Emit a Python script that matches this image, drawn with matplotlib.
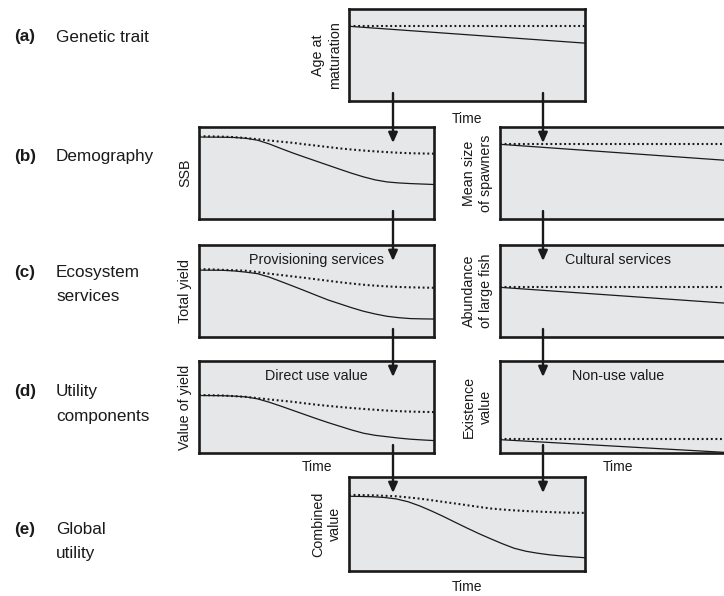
import matplotlib
matplotlib.use('Agg')
import matplotlib.pyplot as plt
from matplotlib.patches import FancyArrowPatch

plt.rcParams['font.family'] = ['Liberation Sans', 'DejaVu Sans']

# ---------------- data ----------------
time = [0.0, 0.05, 0.1, 0.15, 0.2, 0.25, 0.3, 0.35, 0.4, 0.45, 0.5,
        0.55, 0.6, 0.65, 0.7, 0.75, 0.8, 0.85, 0.9, 0.95, 1.0]
time_ends = [0.0, 1.0]

# (a) genetic trait: age at maturation (linear)
age_base = [0.818, 0.818]
age_evo = [0.812, 0.629]

# (b) demography
ssb_base = [0.90, 0.898, 0.895, 0.89, 0.88, 0.867, 0.853, 0.84, 0.828, 0.812, 0.797,
            0.782, 0.767, 0.755, 0.744, 0.735, 0.727, 0.72, 0.715, 0.712, 0.71]
ssb_evo = [0.891, 0.890, 0.889, 0.886, 0.877, 0.856, 0.815, 0.765, 0.717, 0.672, 0.628,
           0.584, 0.54, 0.497, 0.458, 0.425, 0.403, 0.392, 0.385, 0.38, 0.375]
size_base = [0.82, 0.82]
size_evo = [0.812, 0.63]

# (c) ecosystem services
yield_base = [0.738, 0.735, 0.73, 0.726, 0.72, 0.705, 0.688, 0.673, 0.658, 0.643, 0.627,
              0.611, 0.595, 0.581, 0.568, 0.558, 0.55, 0.544, 0.54, 0.537, 0.535]
yield_evo = [0.727, 0.726, 0.725, 0.718, 0.705, 0.688, 0.65, 0.602, 0.553, 0.503, 0.452,
             0.402, 0.36, 0.318, 0.28, 0.25, 0.225, 0.21, 0.20, 0.197, 0.195]
large_base = [0.545, 0.545]
large_evo = [0.54, 0.36]

# (d) utility components
value_base = [0.63, 0.628, 0.625, 0.618, 0.61, 0.596, 0.582, 0.569, 0.556, 0.54, 0.525,
              0.512, 0.50, 0.489, 0.479, 0.47, 0.461, 0.455, 0.45, 0.447, 0.445]
value_evo = [0.625, 0.624, 0.623, 0.618, 0.61, 0.588, 0.551, 0.508, 0.463, 0.418, 0.373,
             0.33, 0.29, 0.25, 0.215, 0.192, 0.177, 0.162, 0.15, 0.142, 0.135]
exist_base = [0.147, 0.147]
exist_evo = [0.145, 0.0]

# (e) global utility
comb_base = [0.81, 0.808, 0.805, 0.80, 0.795, 0.783, 0.77, 0.753, 0.735, 0.718, 0.70,
             0.682, 0.665, 0.654, 0.645, 0.638, 0.632, 0.627, 0.622, 0.62, 0.618]
comb_evo = [0.795, 0.793, 0.79, 0.782, 0.767, 0.737, 0.692, 0.638, 0.58, 0.518, 0.457,
            0.398, 0.343, 0.29, 0.242, 0.21, 0.189, 0.172, 0.16, 0.15, 0.141]

row_labels = [("(a)", ["Genetic trait"]),
              ("(b)", ["Demography"]),
              ("(c)", ["Ecosystem", "services"]),
              ("(d)", ["Utility", "components"]),
              ("(e)", ["Global", "utility"])]

# ---------------- layout ----------------
W, H = 724, 596
fig = plt.figure(figsize=(W / 100, H / 100), dpi=100)

FILL = '#e6e7e8'
INK = '#1a1a1a'
LAB_FS = 10.3
TIME_FS = 10.0
ROW_FS = 12.3

ROWS = {'a': (9, 101), 'b': (127, 219), 'c': (245, 337), 'd': (361, 453), 'e': (477, 571)}
COL_MID = (349, 585)
COL_L = (199, 434)
COL_R = (500, 736)


def panel(col, row):
    x0, x1 = col
    y0, y1 = ROWS[row]
    ax = fig.add_axes([x0 / W, 1 - y1 / H, (x1 - x0) / W, (y1 - y0) / H])
    ax.set_facecolor(FILL)
    ax.set_xlim(0, 1)
    ax.set_ylim(0, 1)
    ax.set_xticks([])
    ax.set_yticks([])
    for s in ax.spines.values():
        s.set_linewidth(1.9)
        s.set_color(INK)
    return ax


def curves(ax, x, base, evo):
    ax.plot(x, base, color=INK, lw=1.5, linestyle=(0, (0.9, 1.3)))
    ax.plot(x, evo, color=INK, lw=0.9, solid_joinstyle='round')


def ylab(ax, text):
    ax.set_ylabel(text, fontsize=LAB_FS, labelpad=5, linespacing=1.25, color=INK)


def title(ax, text):
    ax.text(0.5, 0.79, text, transform=ax.transAxes, ha='center', va='baseline',
            fontsize=LAB_FS, color=INK)


def time_label(ax, off=-0.12):
    ax.text(0.5, off, 'Time', transform=ax.transAxes, ha='center', va='top',
            fontsize=TIME_FS, color=INK)


ax_a = panel(COL_MID, 'a')
curves(ax_a, time_ends, age_base, age_evo)
ylab(ax_a, 'Age at\nmaturation')
time_label(ax_a)

ax_bl = panel(COL_L, 'b')
curves(ax_bl, time, ssb_base, ssb_evo)
ylab(ax_bl, 'SSB')

ax_br = panel(COL_R, 'b')
curves(ax_br, time_ends, size_base, size_evo)
ylab(ax_br, 'Mean size\nof spawners')

ax_cl = panel(COL_L, 'c')
curves(ax_cl, time, yield_base, yield_evo)
ylab(ax_cl, 'Total yield')
title(ax_cl, 'Provisioning services')

ax_cr = panel(COL_R, 'c')
curves(ax_cr, time_ends, large_base, large_evo)
ylab(ax_cr, 'Abundance\nof large fish')
title(ax_cr, 'Cultural services')

ax_dl = panel(COL_L, 'd')
curves(ax_dl, time, value_base, value_evo)
ylab(ax_dl, 'Value of yield')
title(ax_dl, 'Direct use value')
time_label(ax_dl, -0.08)

ax_dr = panel(COL_R, 'd')
curves(ax_dr, time_ends, exist_base, exist_evo)
ylab(ax_dr, 'Existence\nvalue')
title(ax_dr, 'Non-use value')
time_label(ax_dr, -0.08)

ax_e = panel(COL_MID, 'e')
curves(ax_e, time, comb_base, comb_evo)
ylab(ax_e, 'Combined\nvalue')
time_label(ax_e, -0.1)

# ---------------- arrows between levels ----------------
ARROW_X = (393, 543)


def arrow(x, y_from, y_to):
    p = FancyArrowPatch((x / W, 1 - y_from / H), (x / W, 1 - y_to / H),
                        transform=fig.transFigure,
                        arrowstyle='-|>,head_length=0.6,head_width=0.27',
                        mutation_scale=10, lw=1.7, color=INK,
                        shrinkA=0, shrinkB=0, zorder=10)
    fig.add_artist(p)


order = ['a', 'b', 'c', 'd', 'e']
for r0, r1 in zip(order[:-1], order[1:]):
    for x in ARROW_X:
        arrow(x, ROWS[r0][1] - 8, ROWS[r1][0] + 16)

# ---------------- row labels ----------------
baselines = [[41.5], [160.5], [277, 301], [396, 420.5], [534, 558]]
for (tag, lines), ys in zip(row_labels, baselines):
    fig.text(14 / W, 1 - ys[0] / H, tag, fontsize=ROW_FS, fontweight='bold',
             va='baseline', ha='left', color=INK)
    for line, y in zip(lines, ys):
        fig.text(56 / W, 1 - y / H, line, fontsize=ROW_FS, va='baseline',
                 ha='left', color=INK)

fig.savefig('out.png', dpi=100)
